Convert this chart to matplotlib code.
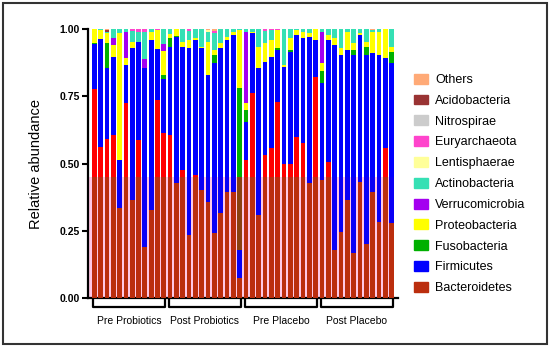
import matplotlib
matplotlib.use("Agg")
import matplotlib.pyplot as plt
from matplotlib.patches import Rectangle
import numpy as np

plt.rcParams['font.family'] = ['Liberation Sans', 'DejaVu Sans']

groups = ['Pre Probiotics', 'Post Probiotics', 'Pre Placebo', 'Post Placebo']
per_group = 12

# relative abundance per sample (48 samples, 12 per group)
bacteroidetes = [.777, .563, .590, .606, .333, .724, .364, .587, .190, .327, .736, .612,
                 .606, .426, .476, .234, .457, .401, .358, .240, .315, .395, .395, .073,
                 .513, .761, .309, .532, .556, .730, .500, .500, .600, .575, .426, .823,
                 .440, .507, .178, .247, .364, .166, .432, .200, .395, .284, .556, .278]
firmicutes = [.166, .399, .264, .291, .180, .142, .564, .363, .664, .632, .188, .201,
              .328, .545, .458, .694, .502, .527, .471, .632, .613, .564, .583, .105,
              .142, .223, .545, .347, .341, .192, .360, .416, .378, .390, .546, .136,
              .360, .452, .763, .656, .558, .737, .546, .703, .515, .619, .335, .594]
fusobacteria = [.004, 0, .095, 0, 0, 0, 0, 0, 0, 0, 0, .016,
                .031, .004, 0, 0, 0, 0, 0, .031, 0, 0, 0, .602,
                .044, 0, 0, 0, 0, .006, 0, .006, 0, 0, 0, 0,
                .043, 0, 0, 0, 0, .019, 0, .031, 0, 0, 0, .044]
proteobacteria = [.053, .034, .035, .044, .471, .025, .022, 0, 0, .030, .072, .090,
                  .018, .025, .019, .031, .006, .006, .124, .019, .019, .012, .012, .216,
                  .025, .006, .080, .068, .062, .068, .006, .043, .018, .025, .012, .041,
                  .030, .019, .024, .025, .068, .025, .006, .019, .080, .087, .109, .018]
verrucomicrobia = [0, 0, 0, .024, 0, .099, 0, 0, .036, 0, 0, .025,
                   0, 0, 0, 0, 0, 0, 0, 0, 0, 0, 0, 0,
                   .266, 0, 0, 0, 0, 0, 0, 0, 0, 0, 0, 0,
                   .117, 0, 0, 0, 0, 0, 0, 0, 0, 0, 0, 0]
actinobacteria = [0, .004, .006, .035, .016, .010, .044, .040, .100, .011, 0, .056,
                  .017, 0, .047, .035, .035, .066, .037, .062, .053, .029, .010, .004,
                  .010, .010, .066, .047, .037, 0, .134, .035, .004, .010, .016, 0,
                  .010, .022, .035, .072, .010, .053, .016, .047, .006, .010, 0, .066]
lentisphaerae = [0] * 18 + [.005] + [0] * 29
euryarchaeota = [0, 0, 0, 0, 0, 0, .006, .010, .010, 0, .004, 0,
                 0, 0, 0, .006, 0, 0, 0, .008, 0, 0, 0, 0,
                 0, 0, 0, .006, .004, .004, 0, 0, 0, 0, 0, 0,
                 0, 0, 0, 0, 0, 0, 0, 0, 0, 0, 0, 0]
nitrospirae = [0] * 48
acidobacteria = [0, 0, .005] + [0] * 45
others = [0, 0, .005] + [0] * 15 + [.005, .008] + [0] * 24 + [.004, 0, 0, 0]

phyla = ['Bacteroidetes', 'Firmicutes', 'Fusobacteria', 'Proteobacteria', 'Verrucomicrobia',
         'Actinobacteria', 'Lentisphaerae', 'Euryarchaeota', 'Nitrospirae', 'Acidobacteria', 'Others']
values = [bacteroidetes, firmicutes, fusobacteria, proteobacteria, verrucomicrobia,
          actinobacteria, lentisphaerae, euryarchaeota, nitrospirae, acidobacteria, others]
colors = ['#ff0000', '#0000ff', '#00b000', '#ffff00', '#a400f0',
          '#35e0b4', '#ffff99', '#ff44cc', '#cccccc', '#993333', '#ffaa77']
# the lower part of the picture has a darker tint
tinted = ['#bb2e0e', '#0a00f5', '#8a4210', '#c8a000', '#8000d0',
          '#35c0a0', '#ffff99', '#ff44cc', '#cccccc', '#993333', '#ffaa77']

fig = plt.figure(figsize=(5.5, 3.47), dpi=100)
ax = fig.add_axes([0.16, 0.1412, 0.5636, 0.7752])

x = np.arange(len(bacteroidetes))
ax.add_patch(Rectangle((-0.98, 0), 48.4, 0.45, color='#ffc8e6', zorder=0, lw=0))

clip = Rectangle((-1, 0), 50, 0.45, transform=ax.transData)
bottom = np.zeros(len(x))
for name, vals, c, tc in zip(phyla, values, colors, tinted):
    vals = np.array(vals)
    ax.bar(x, vals, 0.74, bottom=bottom, color=c, lw=0, zorder=2)
    bars = ax.bar(x, vals, 0.74, bottom=bottom, color=tc, lw=0, zorder=3)
    for b in bars:
        b.set_clip_path(clip)
    bottom += vals

ax.set_xlim(-0.98, 48)
ax.set_ylim(0, 1)
ax.set_xticks([])
ax.set_yticks([0, 0.25, 0.5, 0.75, 1.0])
ax.set_yticklabels(['0.00', '0.25', '0.50', '0.75', '1.00'], fontweight='bold', fontsize=7.5)
ax.tick_params(axis='y', length=4, width=1.5, pad=2)
for s in ['top', 'right']:
    ax.spines[s].set_visible(False)
ax.spines['left'].set_linewidth(1.6)
ax.spines['bottom'].set_linewidth(1.6)
ax.set_ylabel('Relative abundance', fontsize=10.5, labelpad=12)

# group brackets under the axis
trans = ax.get_xaxis_transform()
for g, label in enumerate(groups):
    x0 = g * per_group - 0.2
    x1 = g * per_group + per_group - 0.8
    ax.plot([x0, x0, x1, x1], [0, -0.034, -0.034, 0], color='black', lw=1.6,
            transform=trans, clip_on=False)
    ax.text((x0 + x1) / 2, -0.085, label, transform=trans, ha='center', va='center', fontsize=7.5)

handles = [Rectangle((0, 0), 1, 1, color=c) for c in colors]
handles[0] = Rectangle((0, 0), 1, 1, color=tinted[0])
fig.legend(handles[::-1], phyla[::-1], loc='upper left', bbox_to_anchor=(0.732, 0.82),
           frameon=False, fontsize=9, handlelength=1.1, handleheight=0.85,
           labelspacing=0.68, handletextpad=0.6)

fig.patches.append(Rectangle((0.006, 0.01), 0.988, 0.98, transform=fig.transFigure,
                             fill=False, ec='#333333', lw=1.5))

fig.savefig('out.png', dpi=100)
